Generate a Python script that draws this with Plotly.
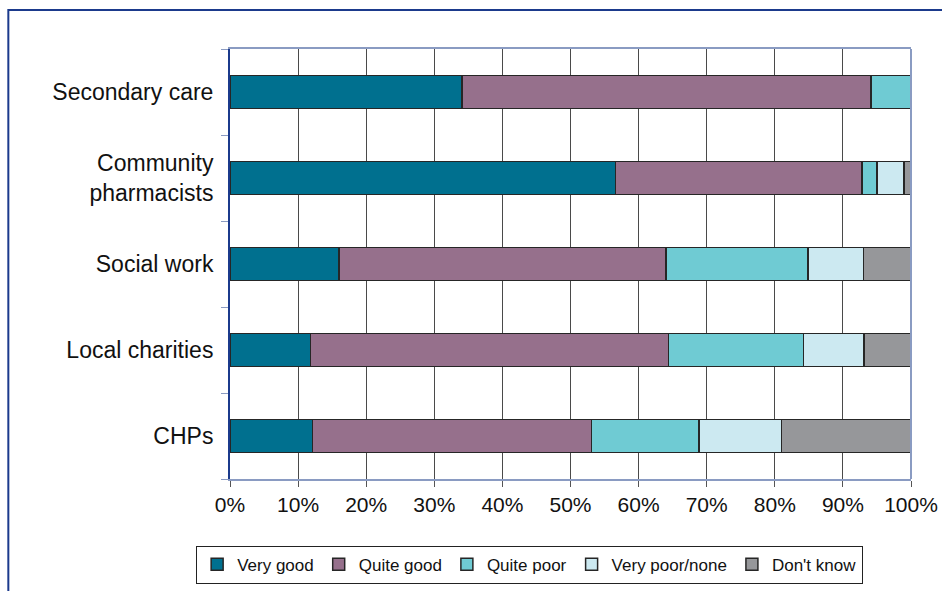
import plotly.graph_objects as go

# Survey: rating of working relationships with each partner group (% of respondents)
categories = ["Secondary care", "Community<br>pharmacists", "Social work", "Local charities", "CHPs"]
very_good = [34.1, 56.6, 16.0, 11.8, 12.1]
quite_good = [60.0, 36.2, 48.0, 52.6, 41.0]
quite_poor = [5.9, 2.2, 20.9, 19.8, 15.8]
very_poor_none = [0.0, 4.0, 8.1, 8.9, 12.1]
dont_know = [0.0, 1.0, 7.0, 6.9, 19.0]

series = [
    ("Very good", very_good, "#00708F"),
    ("Quite good", quite_good, "#96708C"),
    ("Quite poor", quite_poor, "#6FCBD3"),
    ("Very poor/none", very_poor_none, "#CCE9F1"),
    ("Don't know", dont_know, "#96979A"),
]

x_ticks = list(range(0, 101, 10))
x_tick_labels = [f"{v}%" for v in x_ticks]

fig = go.Figure()
for name, vals, color in series:
    fig.add_trace(go.Bar(
        y=categories, x=vals, name=name, orientation="h",
        marker=dict(color=color, line=dict(color="#262626", width=1.5)),
    ))

FONT = "Liberation Sans, Arial, sans-serif"

fig.update_layout(
    barmode="stack",
    bargap=0.615,
    width=942, height=591,
    margin=dict(l=230, r=31, t=49, b=112, autoexpand=False),
    paper_bgcolor="white",
    plot_bgcolor="white",
    font=dict(family=FONT, size=22, color="#111111"),
    showlegend=True,
    legend=dict(
        orientation="h",
        x=0.44, xanchor="center",
        y=-0.155, yanchor="top",
        bordercolor="#222222", borderwidth=1,
        font=dict(size=17),
        traceorder="normal",
        itemwidth=30,
    ),
    xaxis=dict(
        range=[0, 100],
        tickvals=x_ticks, ticktext=x_tick_labels,
        tickfont=dict(size=21),
        showgrid=True, gridcolor="#4a4a4a", gridwidth=1,
        showline=True, linecolor="#8A9BC2", linewidth=2, mirror=True,
        ticks="outside", ticklen=6, tickcolor="#555555",
        zeroline=False, automargin=False,
        fixedrange=True,
    ),
    yaxis=dict(
        categoryorder="array", categoryarray=categories[::-1],
        showline=True, linecolor="#1B3A8C", linewidth=2,
        ticks="outside", ticklen=7, tickcolor="#8A9BC2",
        tickson="boundaries",
        tickfont=dict(size=23),
        showgrid=False, automargin=False,
        ticklabelstandoff=10,
        fixedrange=True,
    ),
    shapes=[
        # right edge of the plot frame
        dict(type="line", xref="paper", yref="paper", x0=1, x1=1, y0=0, y1=1,
             line=dict(color="#8A9BC2", width=2)),
        # outer navy border around the whole chart
        dict(type="rect", xref="paper", yref="paper",
             x0=-0.3255, x1=1.2, y0=-0.3, y1=1.0907,
             line=dict(color="#1B3A8C", width=2), layer="below"),
    ],
)

fig.write_html("out.html")
